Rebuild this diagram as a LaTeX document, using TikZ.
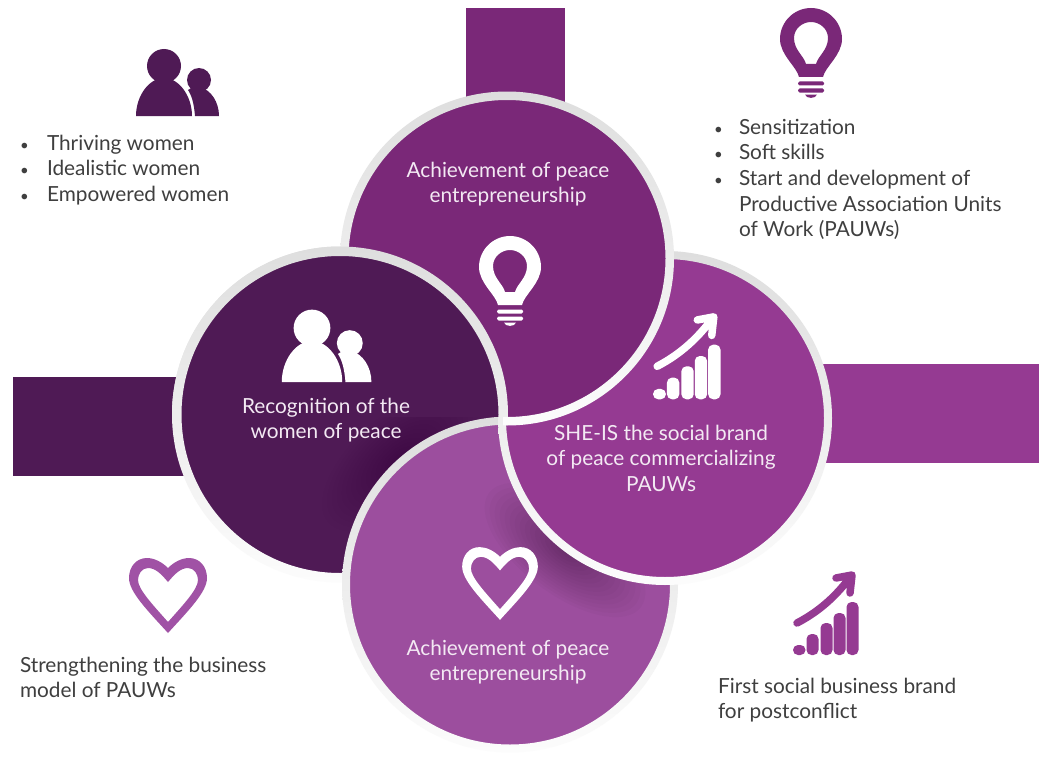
\documentclass[tikz,border=0pt]{standalone}
\usepackage{fontspec}
\setmainfont{Lato}
\definecolor{cTop}{HTML}{7A2878}
\definecolor{cLeft}{HTML}{4F1A55}
\definecolor{cRight}{HTML}{953A92}
\definecolor{cBot}{HTML}{9C4E9E}
\definecolor{cHeart}{HTML}{A052A5}
\definecolor{cText}{HTML}{3F3F3F}
\definecolor{cSoft}{HTML}{F3E9F3}
\definecolor{ringA}{HTML}{DEDEDE}
\definecolor{ringB}{HTML}{EDEDED}
\definecolor{ringC}{HTML}{FCFCFC}
\tikzset{
  every node/.style={inner sep=0pt,outer sep=0pt},
  ringshade/.style={top color=ringA,middle color=ringB,bottom color=ringC,even odd rule,draw=none},
  caption/.style={text=cText,font=\fontsize{20.8}{25.6}\selectfont,align=left,anchor=north west},
  incircle/.style={text=cSoft,font=\fontsize{20.8}{25.6}\selectfont,align=center,anchor=north},
  bulbicon/.pic={
    \fill[pic actions,even odd rule]
      (-12,38) .. controls (-14,28) and (-31,16) .. (-31,0)
      .. controls (-31,-17) and (-17,-31) .. (0,-31)
      .. controls (17,-31) and (31,-17) .. (31,0)
      .. controls (31,16) and (14,28) .. (12,38) -- cycle
      (-5,25) .. controls (-7,17) and (-17,11) .. (-17,-1)
      .. controls (-17,-10) and (-9,-17) .. (0,-17)
      .. controls (9,-17) and (17,-10) .. (17,-1)
      .. controls (17,11) and (7,17) .. (5,25) -- cycle;
    \fill[pic actions,rounded corners=1.5pt] (-13,42.5) rectangle (13,46.5);
    \fill[pic actions,rounded corners=1.5pt] (-13,49.5) rectangle (13,53.5);
    \fill[pic actions] (-6,55.5) .. controls (-5,60) and (5,60) .. (6,55.5) -- cycle;
  },
  peopleicon/.pic={
    \fill[pic actions] (0,0) circle[radius=17];
    \fill[pic actions] (-28,50) .. controls (-28,30) and (-15,12) .. (0,12)
      .. controls (15,12) and (28,30) .. (28,50) -- cycle;
    \fill[pic actions] (35,14) circle[radius=12];
    \fill[pic actions] (31,50) .. controls (30,38) and (28,30) .. (24,24)
      .. controls (28,21) and (33,20) .. (36,21)
      .. controls (47,24) and (55,36) .. (55,50) -- cycle;
  },
  charticon/.pic={
    \fill[pic actions,draw=none,rounded corners=5pt] (-32,32) rectangle (-19.5,42);
    \fill[pic actions,draw=none,rounded corners=5pt] (-18.5,21) rectangle (-6.5,42);
    \fill[pic actions,draw=none,rounded corners=5pt] (-4.5,10) rectangle (7.5,42);
    \fill[pic actions,draw=none,rounded corners=5pt] (8.5,0) rectangle (20.5,42);
    \fill[pic actions,draw=none,rounded corners=5pt] (21.5,-11) rectangle (33.5,42);
    \draw[pic actions,fill=none,line width=7.5pt,line cap=round,line join=round]
      (-28,10) .. controls (-5,-2) and (12,-18) .. (26,-37)
      (11,-35) -- (27,-38) -- (25,-20);
  },
  hearticon/.pic={
    \fill[pic actions,even odd rule]
      (0,-27) .. controls (-6,-33) and (-14,-37) .. (-21,-37)
      .. controls (-32,-37) and (-39,-28) .. (-39,-17)
      .. controls (-39,-3) and (-20,16) .. (0,38)
      .. controls (20,16) and (39,-3) .. (39,-17)
      .. controls (39,-28) and (32,-37) .. (21,-37)
      .. controls (14,-37) and (6,-33) .. (0,-27) -- cycle
      (0,-13) .. controls (-6,-20) and (-12,-27) .. (-20,-27)
      .. controls (-26,-27) and (-30,-21) .. (-30,-15)
      .. controls (-30,-6) and (-16,9) .. (0,27)
      .. controls (16,9) and (30,-6) .. (30,-15)
      .. controls (30,-21) and (26,-27) .. (20,-27)
      .. controls (12,-27) and (6,-20) .. (0,-13) -- cycle;
  }
}
\newcommand{\bulA}{\makebox[27pt][l]{\fontsize{15}{15}\selectfont •}}
\newcommand{\bulB}{\makebox[25pt][l]{\fontsize{15}{15}\selectfont •}}
% disc: centre, inner radius, outer radius, colour
\newcommand{\ringdisc}[5]{%
  \fill[#5] (#1,#2) circle[radius=#3+.5];
  \path[ringshade] (#1,#2) circle[radius=#4] (#1,#2) circle[radius=#3];}
\newcommand{\discTop}{\ringdisc{507}{258.5}{158.5}{167}{cTop}}
\newcommand{\discLeft}{\ringdisc{340}{414.5}{158.5}{168}{cLeft}}
\newcommand{\discRight}{\ringdisc{665}{418}{159}{167}{cRight}}
\newcommand{\discBot}{\ringdisc{510}{584.5}{160}{168}{cBot}}
\begin{document}
\begin{tikzpicture}[x=1pt,y=-1pt]
\useasboundingbox (0,0) rectangle (1039,760);
\fill[white] (0,0) rectangle (1039,760);
% bars
\fill[cTop] (466,8) rectangle (565,110);
\fill[cLeft] (13,377) rectangle (190,476);
\fill[cRight] (820,364) rectangle (1039,463);
% discs, in a pinwheel
\discLeft
\begin{scope}
  \clip (340,414.5) circle[radius=158.5];
  \foreach \k in {1,...,16}
    \fill[black,fill opacity=.012,rotate around={41:(400,460)}]
      (400,460) ellipse[x radius={95*\k/16},y radius={46*\k/16}];
\end{scope}
\discBot
\begin{scope}
  \clip (510,584.5) circle[radius=160];
  \foreach \k in {1,...,16}
    \fill[black,fill opacity=.021,rotate around={-37:(565,550)}]
      (565,550) ellipse[x radius={95*\k/16},y radius={44*\k/16}];
\end{scope}
\discRight
\begin{scope}
  \clip (0,0) -- (1039,0) -- (1039,760) -- (503,760) -- (503,416) -- (0,416) -- cycle;
  \discTop
\end{scope}
\begin{scope}
  \clip (0,0) rectangle (1039,416);
  \discLeft
\end{scope}
% icons in the discs
\pic[fill=white] at (510,267) {bulbicon};
\pic[fill=white,scale=1.08] at (312,328) {peopleicon};
\pic[draw=white,fill=white,scale=1.03] at (686,356) {charticon};
\pic[fill=white,scale=.97] at (500,583) {hearticon};
% outer icons
\pic[fill=cTop] at (811,39) {bulbicon};
\pic[fill=cLeft] at (164,66) {peopleicon};
\pic[draw=cRight,fill=cRight] at (825,613) {charticon};
\pic[fill=cHeart] at (168,595) {hearticon};
% disc texts
\node[incircle] (t1) at (508,162) {Achievement of peace\\entrepreneurship};
\node[incircle] (t2) at (326,398) {Recognition of the\\women of peace};
\node[incircle] (t3) at (661,425) {SHE-IS the social brand\\of peace commercializing\\PAUWs};
\node[incircle] (t4) at (508,640) {Achievement of peace\\entrepreneurship};
% outer texts
\node[caption] (l1) at (20,135) {\bulA Thriving women\\\bulA Idealistic women\\\bulA Empowered women};
\node[caption] (l2) at (714,119) {\bulB Sensitization\\\bulB Soft skills\\\bulB Start and development of\\\hspace*{25pt}Productive Association Units\\\hspace*{25pt}of Work (PAUWs)};
\node[caption] (l3) at (20,657) {Strengthening the business\\model of PAUWs};
\node[caption] (l4) at (718,678) {First social business brand\\for postconflict};
\end{tikzpicture}
\end{document}
